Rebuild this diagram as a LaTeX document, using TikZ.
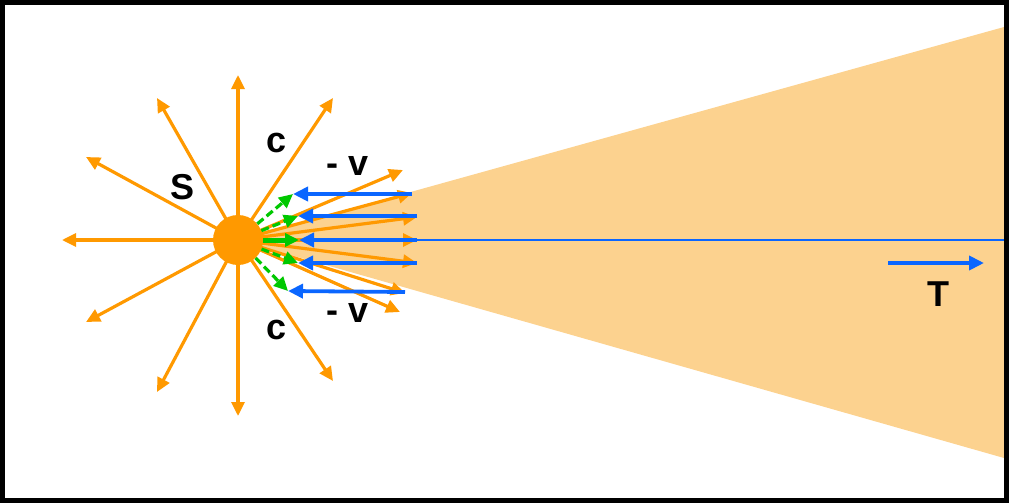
\documentclass[tikz,border=0pt]{standalone}
\usepackage{fontspec}
\setsansfont{Liberation Sans}
\usetikzlibrary{arrows.meta}
\definecolor{sunorange}{RGB}{255,153,0}
\definecolor{conebeige}{RGB}{252,210,143}
\definecolor{flowblue}{RGB}{10,102,255}
\definecolor{addgreen}{RGB}{0,200,0}
\begin{document}
\begin{tikzpicture}[x=1pt,y=-1pt,
    ray/.style={draw=sunorange,line width=3.2pt,-{Triangle[length=14pt,width=13pt]}},
    flow/.style={draw=flowblue,line width=3.8pt,-{Triangle[length=15pt,width=14pt]}},
    sum/.style={draw=addgreen,line width=3.2pt,dash pattern=on 8pt off 4pt,-{Triangle[length=14pt,width=13pt]}},
    lbl/.style={font=\sffamily\bfseries\fontsize{36}{36}\selectfont,inner sep=0pt}]
  \useasboundingbox (0,0) rectangle (1009,503);
  \path
    (238,240) coordinate (o)
    (1004,27) coordinate (ctop)
    (1004,458) coordinate (cbot)
    (1004,240) coordinate (axis);
  % shadow cone
  \fill[conebeige] (o) -- (ctop) -- (cbot) -- cycle;
  \draw[flowblue,line width=1.5pt] (417,240) -- (axis);
  \path
    (62,240) coordinate (r1)
    (86,157) coordinate (r2)
    (157,98) coordinate (r3)
    (238,75) coordinate (r4)
    (333,98) coordinate (r5)
    (86,322) coordinate (r6)
    (157,392) coordinate (r7)
    (238,416) coordinate (r8)
    (333,381) coordinate (r9)
    (403,170) coordinate (f1)
    (412,193) coordinate (f2)
    (417,217) coordinate (f3)
    (417,240) coordinate (f4)
    (417,263) coordinate (f5)
    (405,293) coordinate (f6)
    (400,312) coordinate (f7);
  \begin{scope}[ray]
    \draw (o) to (r1);
    \draw (o) to (r2);
    \draw (o) to (r3);
    \draw (o) to (r4);
    \draw (o) to (r5);
    \draw (o) to (r6);
    \draw (o) to (r7);
    \draw (o) to (r8);
    \draw (o) to (r9);
    \draw (o) to (f1);
    \draw (o) to (f2);
    \draw (o) to (f3);
    \draw (o) to (f4);
    \draw (o) to (f5);
    \draw (o) to (f6);
    \draw (o) to (f7);
  \end{scope}
  \node[circle,fill=sunorange,minimum size=50pt,inner sep=0pt] (sun) at (o) {};
  % flow arrows and sums
  \path
    (412,194) coordinate (b1) (293,194) coordinate (g1)
    (417,216) coordinate (b2) (298,216) coordinate (g2)
    (417,240) coordinate (b3) (299,240) coordinate (g3)
    (417,263) coordinate (b4) (298,263) coordinate (g4)
    (405,292) coordinate (b5) (288,291) coordinate (g5);
  \begin{scope}[sum]
    \draw (sun) to (g1);
    \draw (sun) to (g2);
    \draw[solid,line width=5pt] (sun) to (g3);
    \draw (sun) to (g4);
    \draw (sun) to (g5);
  \end{scope}
  \begin{scope}[flow]
    \draw (b1) to (g1);
    \draw (b2) to (g2);
    \draw (b3) to (g3);
    \draw (b4) to (g4);
    \draw (b5) to (g5);
  \end{scope}
  \path (888,263) coordinate (t1) (984,263) coordinate (t2);
  \draw[flow,line width=4.2pt] (t1) -- (t2);
  \draw
    (183,187) node[lbl] (S){S}
    (277,143) node[lbl] (c1){c}
    (348,166) node[lbl] (v1){- v}
    (277,330) node[lbl] (c2){c}
    (348,313) node[lbl] (v2){- v}
    (938,294) node[lbl] (T){T};
  \draw[line width=5pt] (2.5,2.5) rectangle (1006.5,500.5);
\end{tikzpicture}
\end{document}
